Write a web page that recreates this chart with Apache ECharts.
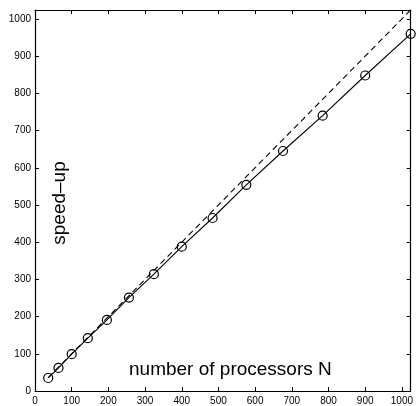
<!DOCTYPE html>
<html>
<head>
<meta charset="utf-8">
<script src="https://cdn.jsdelivr.net/npm/echarts@6/dist/echarts.min.js"></script>
<style>
  html, body { margin: 0; padding: 0; background: #fff; }
  #chart { width: 416px; height: 406px; }
</style>
</head>
<body>
<div id="chart"></div>
<script>
// processors (perfect squares) and measured speed-up
const processors = [36, 64, 100, 144, 196, 256, 324, 400, 484, 576, 676, 784, 900, 1024];
const speedup = [35, 62, 99, 142, 191, 251, 314, 388, 465, 554, 645, 740, 848, 960];
// ideal speed-up line
const idealX = [36, 1024];
const idealY = [36, 1024];

const font = 'Liberation Sans, Arial, Helvetica, sans-serif';

const chart = echarts.init(document.getElementById('chart'));

const tickStyle = { show: true, inside: true, length: 4, lineStyle: { color: '#000', width: 1 } };
const lineStyle = { show: true, onZero: false, lineStyle: { color: '#000', width: 1.2 } };

const option = {
  animation: false,
  backgroundColor: '#fff',
  grid: { left: 35, top: 10, right: 0, bottom: 15, containLabel: false },
  xAxis: [
    {
      type: 'value', min: 0, max: 1024, interval: 100,
      axisLine: lineStyle, axisTick: tickStyle, splitLine: { show: false },
      axisLabel: {
        color: '#000', fontFamily: font, fontSize: 10, margin: 5,
        formatter: v => (v % 100 === 0 ? v : '')
      }
    },
    {
      type: 'value', position: 'top', min: 0, max: 1024, interval: 100,
      axisLine: lineStyle, axisTick: tickStyle, splitLine: { show: false },
      axisLabel: { show: false }
    }
  ],
  yAxis: [
    {
      type: 'value', min: 0, max: 1024, interval: 100,
      axisLine: lineStyle, axisTick: tickStyle, splitLine: { show: false },
      axisLabel: {
        color: '#000', fontFamily: font, fontSize: 10, margin: 4,
        formatter: v => (v % 100 === 0 ? v : '')
      }
    },
    {
      type: 'value', position: 'right', min: 0, max: 1024, interval: 100,
      axisLine: lineStyle, axisTick: tickStyle, splitLine: { show: false },
      axisLabel: { show: false }
    }
  ],
  graphic: [
    {
      type: 'text', x: 129, y: 370,
      style: {
        text: 'number of processors N', fill: '#000', font: '19px ' + font,
        align: 'left', verticalAlign: 'middle'
      }
    },
    {
      type: 'text', x: 60, y: 203, rotation: Math.PI / 2,
      style: {
        text: 'speed\u2013up', fill: '#000', font: '19px ' + font,
        align: 'center', verticalAlign: 'middle'
      }
    }
  ],
  series: [
    {
      type: 'line',
      data: idealX.map((x, i) => [x, idealY[i]]),
      symbol: 'none',
      lineStyle: { color: '#000', width: 1.1, type: [6, 4] }
    },
    {
      type: 'line',
      data: processors.map((x, i) => [x, speedup[i]]),
      symbol: 'circle', symbolSize: 9,
      itemStyle: { color: 'transparent', borderColor: '#000', borderWidth: 1.2 },
      lineStyle: { color: '#000', width: 1.1 }
    }
  ]
};

chart.setOption(option);
</script>
</body>
</html>
